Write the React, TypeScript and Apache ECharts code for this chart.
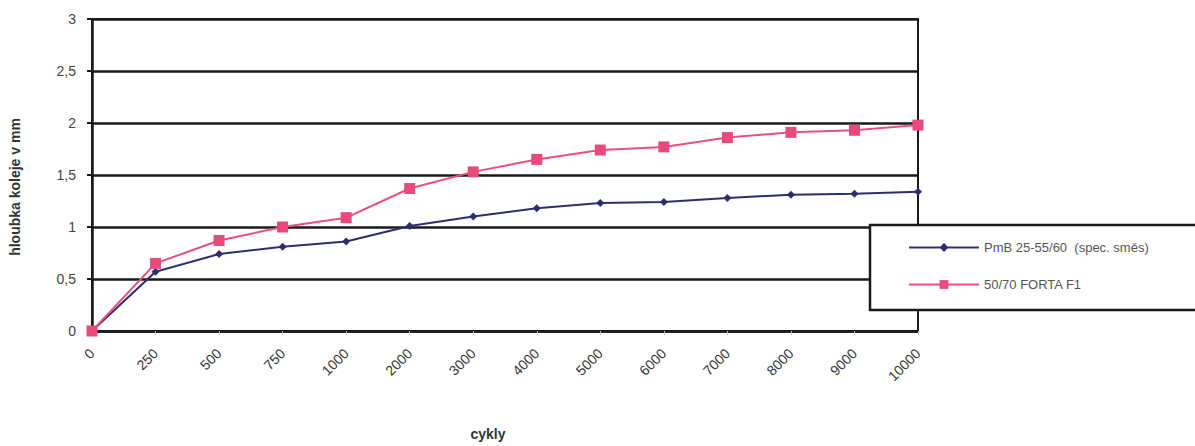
import React, { useEffect, useRef } from "react";
import * as echarts from "echarts";

const categories = ["0", "250", "500", "750", "1000", "2000", "3000", "4000", "5000", "6000", "7000", "8000", "9000", "10000"];
const pmbValues = [0, 0.57, 0.74, 0.81, 0.86, 1.01, 1.1, 1.18, 1.23, 1.24, 1.28, 1.31, 1.32, 1.34];
const fortaValues = [0, 0.65, 0.87, 1.0, 1.09, 1.37, 1.53, 1.65, 1.74, 1.77, 1.86, 1.91, 1.93, 1.98];
const seriesNames = ["PmB 25-55/60  (spec. směs)", "50/70 FORTA F1"];

export default function App() {
  const ref = useRef<HTMLDivElement>(null);
  useEffect(() => {
    if (!ref.current) return;
    const chart = echarts.init(ref.current, null, { renderer: "svg" });
    chart.setOption({
      animation: false,
      backgroundColor: "#ffffff",
      textStyle: { fontFamily: "Liberation Sans, Arial, sans-serif" },
      grid: {
        left: 92,
        right: 277,
        top: 19,
        bottom: 110,
        show: true,
        borderColor: "#1a1a1a",
        borderWidth: 2,
        backgroundColor: "transparent",
      },
      xAxis: {
        type: "category",
        data: categories,
        boundaryGap: false,
        name: "cykly",
        nameLocation: "middle",
        nameGap: 96,
        nameTextStyle: { fontSize: 14, color: "#333", fontWeight: "bold", padding: [0, 34, 0, 0] },
        axisLine: { lineStyle: { color: "#1a1a1a", width: 2.5 } },
        axisTick: { show: true, length: 4, lineStyle: { color: "#bbb" } },
        axisLabel: { rotate: 45, fontSize: 14, color: "#333", margin: 20 },
        splitLine: { show: false },
      },
      yAxis: {
        type: "value",
        min: 0,
        max: 3,
        interval: 0.5,
        name: "hloubka koleje v mm",
        nameLocation: "middle",
        nameGap: 70,
        nameTextStyle: { fontSize: 14, color: "#333", fontWeight: "bold", padding: [0, 24, 0, 0] },
        axisLine: { show: true, lineStyle: { color: "#1a1a1a", width: 2.5 } },
        axisTick: { show: true, length: 5, lineStyle: { color: "#1a1a1a", width: 2 } },
        axisLabel: {
          fontSize: 14,
          color: "#444",
          margin: 16,
          formatter: (v: number) => String(v).replace(".", ","),
        },
        splitLine: { show: true, lineStyle: { color: "#1a1a1a", width: 2.5 } },
      },
      graphic: [
        {
          type: "rect",
          z: 50,
          shape: { x: 870, y: 225, width: 340, height: 85 },
          style: { fill: "#ffffff", stroke: "#1a1a1a", lineWidth: 2.5 },
        },
      ],
      legend: {
        z: 60,
        left: 903,
        top: 236,
        orient: "vertical",
        itemGap: 24,
        itemWidth: 70,
        itemHeight: 11,
        textStyle: { fontSize: 13, color: "#555" },
        data: seriesNames,
      },
      series: [
        {
          name: seriesNames[0],
          type: "line",
          data: pmbValues,
          symbol: "diamond",
          symbolSize: 8,
          lineStyle: { color: "#2e2e6e", width: 2 },
          itemStyle: { color: "#2e2e6e" },
        },
        {
          name: seriesNames[1],
          type: "line",
          data: fortaValues,
          symbol: "rect",
          symbolSize: 11,
          lineStyle: { color: "#e8507f", width: 2 },
          itemStyle: { color: "#e84a7c" },
        },
      ],
    });
    return () => chart.dispose();
  }, []);
  return <div ref={ref} style={{ width: 1195, height: 446, position: "absolute", left: 0, top: 0 }} />;
}
